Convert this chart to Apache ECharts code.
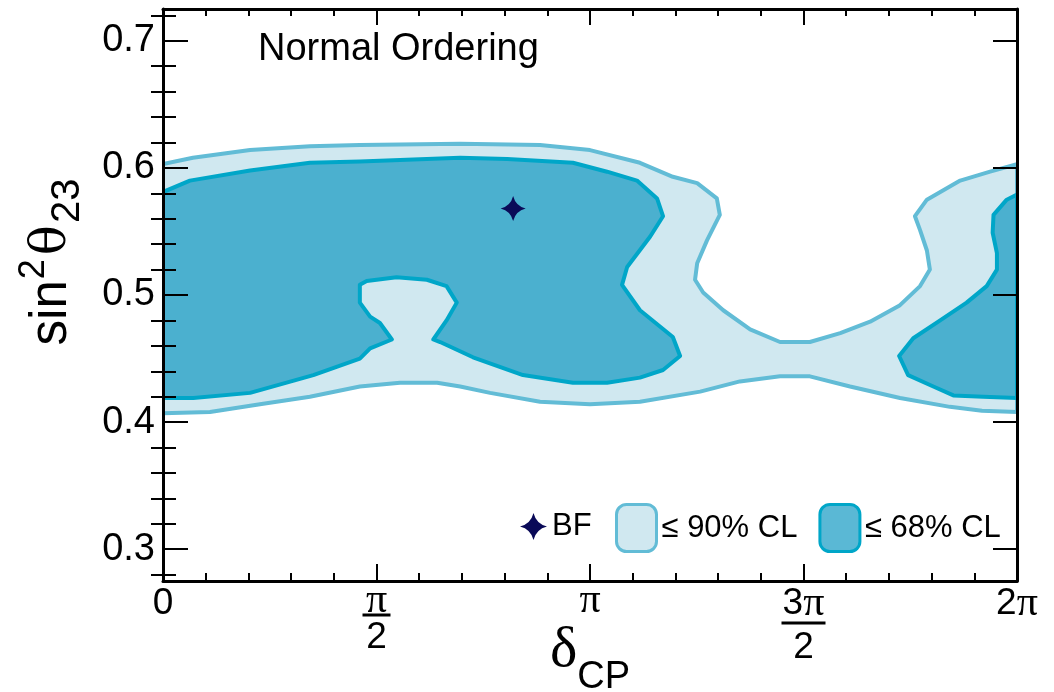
<!DOCTYPE html>
<html>
<head>
<meta charset="utf-8">
<script src="https://cdn.jsdelivr.net/npm/echarts@6/dist/echarts.min.js"></script>
<style>
  html, body { margin: 0; padding: 0; background: #fff; }
  #chart { width: 1054px; height: 692px; }
</style>
</head>
<body>
<div id="chart"></div>
<script>
// Allowed regions in (deltaCP / pi, sin^2 theta23), Normal Ordering.
// 90% CL contour: one closed region spanning the full deltaCP range.
const contour90 = [
  [0, 0.603], [0.070, 0.608], [0.204, 0.614], [0.344, 0.617], [0.461, 0.618],
  [0.696, 0.619], [0.883, 0.618], [1.000, 0.614], [1.117, 0.604], [1.194, 0.593],
  [1.251, 0.588], [1.297, 0.576], [1.304, 0.563], [1.274, 0.543], [1.251, 0.525],
  [1.246, 0.512], [1.265, 0.502], [1.312, 0.488], [1.375, 0.473], [1.445, 0.463],
  [1.515, 0.463], [1.586, 0.470], [1.656, 0.479], [1.726, 0.492], [1.773, 0.507],
  [1.796, 0.520], [1.789, 0.535], [1.773, 0.551], [1.761, 0.562], [1.789, 0.575],
  [1.867, 0.590], [1.937, 0.597], [2, 0.603],
  [2, 0.408], [1.918, 0.409], [1.843, 0.412], [1.726, 0.419], [1.609, 0.428],
  [1.515, 0.436], [1.445, 0.436], [1.351, 0.432], [1.258, 0.424], [1.117, 0.416],
  [1.000, 0.414], [0.883, 0.416], [0.766, 0.423], [0.696, 0.428], [0.642, 0.431],
  [0.555, 0.431], [0.461, 0.428], [0.344, 0.420], [0.227, 0.414], [0.110, 0.408],
  [0, 0.407]
];

// 68% CL contour, main island (with the notch near pi/2).
const contour68Main = [
  [0, 0.581], [0.063, 0.590], [0.204, 0.598], [0.344, 0.604], [0.461, 0.605],
  [0.696, 0.608], [0.806, 0.607], [0.960, 0.604], [1.040, 0.597], [1.110, 0.590],
  [1.157, 0.576], [1.171, 0.562], [1.141, 0.546], [1.087, 0.522], [1.075, 0.508],
  [1.117, 0.488], [1.194, 0.467], [1.211, 0.452], [1.171, 0.441], [1.117, 0.435],
  [1.040, 0.431], [0.960, 0.431], [0.843, 0.437], [0.726, 0.451], [0.649, 0.463],
  [0.633, 0.465], [0.664, 0.480], [0.688, 0.494], [0.664, 0.507], [0.618, 0.512],
  [0.547, 0.514], [0.477, 0.511], [0.461, 0.508], [0.461, 0.494], [0.485, 0.483],
  [0.508, 0.478], [0.536, 0.465], [0.485, 0.458], [0.461, 0.450], [0.352, 0.437],
  [0.204, 0.423], [0.071, 0.419], [0, 0.419]
];

// 68% CL contour, island at the 2pi edge.
const contour68Right = [
  [2, 0.579], [1.976, 0.575], [1.945, 0.563], [1.943, 0.549], [1.953, 0.533],
  [1.953, 0.520], [1.929, 0.507], [1.882, 0.494], [1.820, 0.480], [1.757, 0.466],
  [1.724, 0.452], [1.745, 0.437], [1.804, 0.428], [1.851, 0.421], [1.921, 0.420],
  [2, 0.419]
];

// Best-fit point
const bestFit = [0.820, 0.568];

// Axis ticks
const xTickLabels = ['0', 'π/2', 'π', '3π/2', '2π'];
const yMajorTicks = [0.3, 0.4, 0.5, 0.6, 0.7];
const yMinorTicks = [0.28, 0.32, 0.34, 0.36, 0.38, 0.42, 0.44, 0.46, 0.48,
  0.52, 0.54, 0.56, 0.58, 0.62, 0.64, 0.66, 0.68, 0.72];

const regions68 = [contour68Main, contour68Right];

const C90_FILL = '#d0e8f0', C90_LINE = '#62bcd6';
const C68_FILL = '#4bb0cf', C68_LINE = '#00a6c8';
const C68_KEY = '#5ab8d5';
const BF_COLOR = '#0a0a58';
const STAR = 'path://M0,-12 Q2.4,-2.4 12,0 Q2.4,2.4 0,12 Q-2.4,2.4 -12,0 Q-2.4,-2.4 0,-12 Z';

const SANS = '"Liberation Sans", Arial, Helvetica, sans-serif';
const SERIF = '"Liberation Serif", "Times New Roman", serif';

// x tick label -> rich text (pi in serif, fractions stacked)
function piText(s, key) {
  return s.split('').map(ch => ch === 'π' ? '{p' + key + '|π}' : '{d|' + ch + '}').join('');
}
function xLabel(value) {
  const idx = Math.round(value / 0.5);
  const lab = xTickLabels[idx];
  if (lab === undefined) return '';
  if (lab.indexOf('/') >= 0) {
    const parts = lab.split('/');
    const wide = parts[0].length > 1;
    return piText(parts[0], wide ? '30' : '24') + '\n{' + (wide ? 'barL' : 'barS') + '| }\n{den|' + parts[1] + '}';
  }
  return piText(lab, lab === 'π' ? '24' : '30');
}

const tickLine = { color: '#000', width: 2 };
const frameLine = { show: true, onZero: false, lineStyle: { color: '#000', width: 3 } };

const chart = echarts.init(document.getElementById('chart'), null, { renderer: 'canvas' });

function polygon(points, api, fill, stroke) {
  return {
    type: 'polygon',
    shape: { points: points.map(p => api.coord(p)) },
    style: { fill: fill, stroke: stroke, lineWidth: 4, lineJoin: 'round' }
  };
}

chart.setOption({
  animation: false,
  backgroundColor: '#fff',
  grid: { left: 163, right: 37, top: 9, bottom: 111, containLabel: false },
  xAxis: [
    {
      type: 'value', min: 0, max: 2, interval: 0.5, position: 'bottom', z: 10,
      axisLine: frameLine,
      axisTick: { inside: true, length: 17, lineStyle: tickLine },
      minorTick: { show: true, splitNumber: 5, length: 8, lineStyle: tickLine },
      splitLine: { show: false }, minorSplitLine: { show: false },
      axisLabel: {
        margin: 8, color: '#000', formatter: xLabel,
        rich: {
          d: { fontFamily: SANS, fontSize: 37, lineHeight: 30, color: '#000' },
          p30: { fontFamily: SERIF, fontSize: 42, lineHeight: 30, color: '#000' },
          p24: { fontFamily: SERIF, fontSize: 42, lineHeight: 24, color: '#000' },
          barS: { width: 28, height: 3, lineHeight: 4, backgroundColor: '#000', fontSize: 2 },
          barL: { width: 44, height: 3, lineHeight: 8, backgroundColor: '#000', fontSize: 2 },
          den: { fontFamily: SANS, fontSize: 37, lineHeight: 42, color: '#000' }
        }
      }
    },
    {
      type: 'value', min: 0, max: 2, interval: 0.5, position: 'top', z: 10,
      axisLine: frameLine,
      axisTick: { inside: true, length: 16, lineStyle: tickLine },
      minorTick: { show: true, splitNumber: 5, length: 7, lineStyle: tickLine },
      splitLine: { show: false }, minorSplitLine: { show: false },
      axisLabel: { show: false }
    }
  ],
  yAxis: [
    {
      type: 'value', min: 0.275, max: 0.725, position: 'left', z: 10,
      axisLine: frameLine,
      axisTick: { inside: true, length: 25, lineStyle: tickLine, customValues: yMajorTicks },
      splitLine: { show: false },
      axisLabel: {
        customValues: yMajorTicks, margin: 8, color: '#000',
        fontFamily: SANS, fontSize: 38, formatter: v => v.toFixed(1)
      }
    },
    {
      type: 'value', min: 0.275, max: 0.725, position: 'left', z: 10,
      axisLine: { show: false },
      axisTick: { inside: true, length: 13, lineStyle: tickLine, customValues: yMinorTicks },
      splitLine: { show: false }, axisLabel: { show: false }
    },
    {
      type: 'value', min: 0.275, max: 0.725, position: 'right', z: 10,
      axisLine: frameLine,
      axisTick: { inside: true, length: 24, lineStyle: tickLine, customValues: yMajorTicks },
      splitLine: { show: false }, axisLabel: { show: false }
    },
    {
      type: 'value', min: 0.275, max: 0.725, position: 'right', z: 10,
      axisLine: { show: false },
      axisTick: { inside: true, length: 12, lineStyle: tickLine, customValues: yMinorTicks },
      splitLine: { show: false }, axisLabel: { show: false }
    }
  ],
  legend: [
    {
      data: [{ name: 'BF', icon: STAR, itemStyle: { color: BF_COLOR, opacity: 1 } }],
      left: 515, top: 506, itemWidth: 27, itemHeight: 27, selectedMode: false,
      textStyle: { fontFamily: SANS, fontSize: 31, color: '#000' }
    },
    {
      data: [
        { name: '≤ 90% CL', icon: 'roundRect',
          itemStyle: { color: C90_FILL, borderColor: C90_LINE, borderWidth: 3 } },
        { name: '≤ 68% CL', icon: 'roundRect',
          itemStyle: { color: C68_KEY, borderColor: C68_LINE, borderWidth: 3 } }
      ],
      left: 610, top: 498, itemWidth: 40, itemHeight: 47, itemGap: 21, selectedMode: false,
      textStyle: { fontFamily: SANS, fontSize: 31, color: '#000' }
    }
  ],
  graphic: [
    {
      type: 'text', x: 258, y: 50, z: 20,
      style: { text: 'Normal Ordering', fontFamily: SANS, fontSize: 38, fill: '#000',
               align: 'left', verticalAlign: 'middle' }
    },
    {
      type: 'text', x: 52, y: 262, rotation: Math.PI / 2, z: 20,
      style: {
        text: '{m|sin}{sup|2}{g|θ}{sub|23}', align: 'center', verticalAlign: 'middle',
        rich: {
          m: { fontFamily: SANS, fontSize: 51, lineHeight: 72, fill: '#000' },
          sup: { fontFamily: SANS, fontSize: 36, lineHeight: 34, verticalAlign: 'top', fill: '#000',
                 padding: [0, 2, 0, 1] },
          g: { fontFamily: '"DejaVu Serif", serif', fontSize: 50, lineHeight: 72, fill: '#000',
               padding: [0, 2, 0, 2] },
          sub: { fontFamily: SANS, fontSize: 40, lineHeight: 38, verticalAlign: 'bottom', fill: '#000' }
        }
      }
    },
    {
      type: 'text', x: 590, y: 651, z: 20,
      style: {
        text: '{g|δ}{sub|CP}', align: 'center', verticalAlign: 'middle',
        rich: {
          g: { fontFamily: SERIF, fontSize: 58, lineHeight: 92, fill: '#000' },
          sub: { fontFamily: SANS, fontSize: 38, lineHeight: 38, verticalAlign: 'bottom', fill: '#000' }
        }
      }
    }
  ],
  series: [
    {
      type: 'custom', name: '≤ 90% CL', clip: true, z: 2,
      itemStyle: { color: C90_FILL, borderColor: C90_LINE, borderWidth: 3 },
      data: [contour90[0]],
      renderItem: (params, api) => polygon(contour90, api, C90_FILL, C90_LINE)
    },
    {
      type: 'custom', name: '≤ 68% CL', clip: true, z: 3,
      itemStyle: { color: C68_KEY, borderColor: C68_LINE, borderWidth: 3 },
      data: regions68.map(r => r[0]),
      renderItem: (params, api) => polygon(regions68[params.dataIndex], api, C68_FILL, C68_LINE)
    },
    {
      type: 'scatter', name: 'BF', z: 5,
      symbol: STAR, symbolSize: [25, 25],
      itemStyle: { color: BF_COLOR, opacity: 1 },
      data: [bestFit]
    }
  ]
});
</script>
</body>
</html>
